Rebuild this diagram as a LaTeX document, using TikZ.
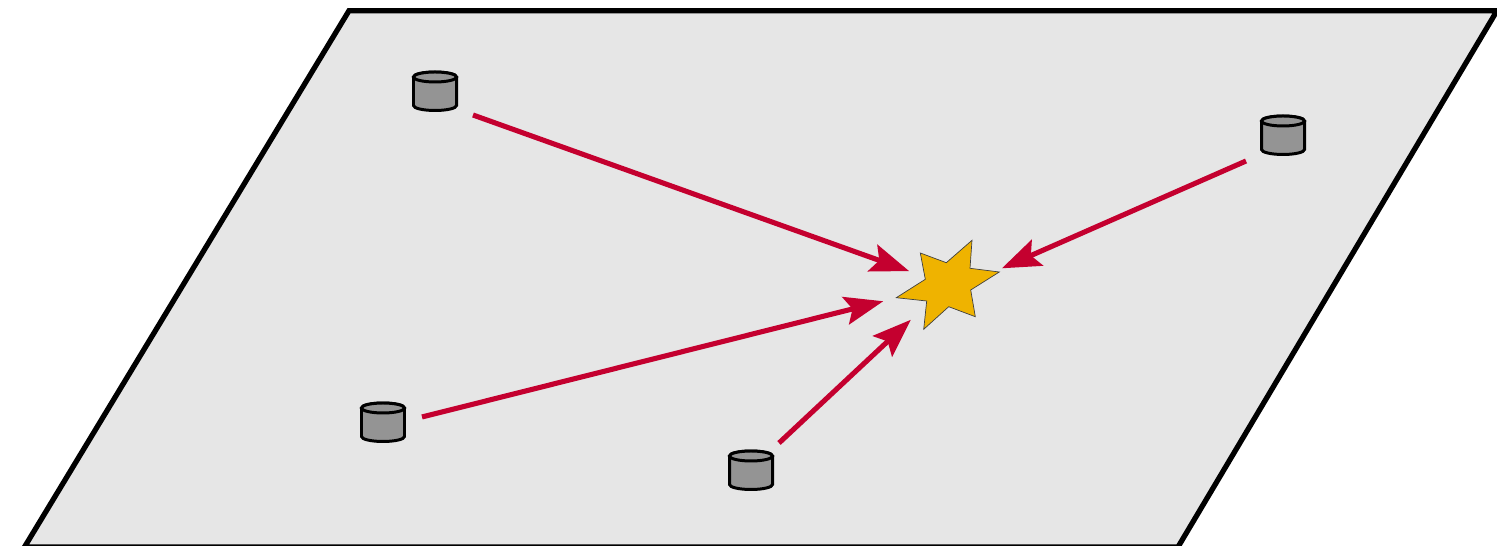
\documentclass[tikz,border=0pt]{standalone}
\usepackage{xcolor}
\usetikzlibrary{arrows.meta,calc}
\definecolor{planegray}{HTML}{E6E6E6}
\definecolor{cangray}{HTML}{949494}
\definecolor{rayred}{HTML}{C4002F}
\definecolor{blastgold}{HTML}{EFB300}

\begin{document}
\begin{tikzpicture}[
  x=0.02cm, y=-0.02cm,
  plane/.style={draw=black, line width=3pt, fill=planegray, line join=miter},
  blast/.style={draw=black!75, line width=0.4pt, fill=blastgold, line join=miter},
  ray/.style={-{Stealth[length=22pt, width=16pt, inset=4pt]}, draw=rayred, fill=rayred, line width=2.9pt},
  canline/.style={draw=black, line width=1.7pt, fill=cangray},
  can/.pic={
    \draw[canline] (-21.5,-14) -- (-21.5,14.5) arc[start angle=180, end angle=0, x radius=21.5, y radius=5]
      -- (21.5,-14) arc[start angle=0, end angle=-180, x radius=21.5, y radius=5] -- cycle;
    \draw[canline] (0,-14) ellipse[x radius=21.5, y radius=5];
  }
]
\useasboundingbox (0,0) rectangle (1497,546);
\draw[plane] (349,10.7) -- (1497,10.7) -- (1178,547) -- (24.5,547) -- cycle;

\coordinate (canA) at (435,91);
\coordinate (canB) at (1283,135);
\coordinate (canC) at (383,422);
\coordinate (canD) at (751,470);
\foreach \c in {canA,canB,canC,canD}
  \pic at (\c) {can};

% star is irregular, so its outline is typed by hand
\coordinate (centre) at (948,285);
\draw[blast] (972,240.3) -- (970,268.3) -- (999.3,272) -- (970.7,290) -- (975.3,316.7) -- (948.7,306.7)
  -- (923.7,329.3) -- (926.7,301) -- (896.3,297.7) -- (925.3,279.3) -- (920.3,253) -- (946.3,262.7) -- cycle;

\coordinate (outA) at ($(canA)+(38,24)$);
\coordinate (outB) at ($(canB)+(-37,26)$);
\coordinate (outC) at ($(canC)+(39,-5)$);
\coordinate (outD) at ($(canD)+(28,-27)$);

\draw[ray, shorten >=23.5pt] (outA) -- (centre);
\draw[ray, shorten >=33.5pt] (outB) -- ($(centre)+(0,7)$);
\draw[ray, shorten >=38pt] (outC) -- (centre);
\draw[ray, shorten >=29pt] (outD) -- (centre);
\end{tikzpicture}
\end{document}
